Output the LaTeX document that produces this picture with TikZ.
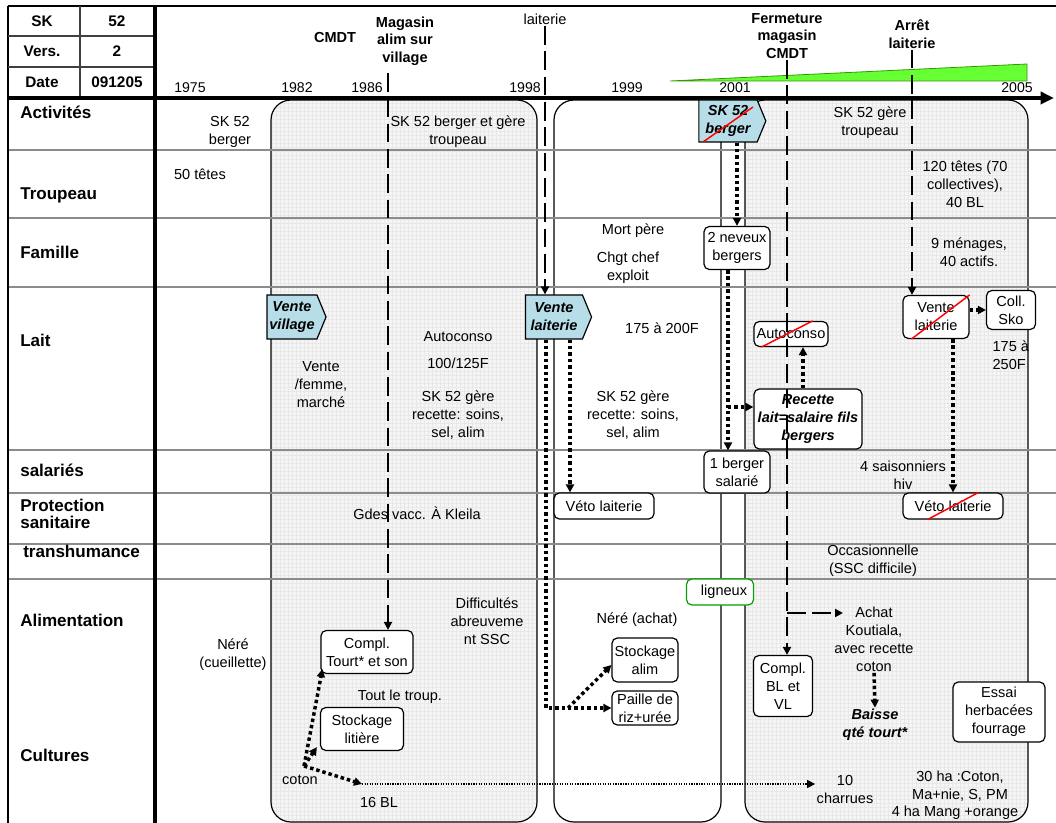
\documentclass[tikz,border=0pt]{standalone}
\usepackage{fontspec}
\setmainfont{Liberation Sans}
\usetikzlibrary{arrows.meta,positioning,calc,shapes.symbols,patterns}

\definecolor{signalblue}{RGB}{183,221,232}
\definecolor{wedgegreen}{RGB}{102,255,51}
\definecolor{wedgeline}{RGB}{51,153,0}
\definecolor{ligneuxgreen}{RGB}{0,160,0}

\begin{document}
\begin{tikzpicture}[x=0.75pt, y=-0.75pt,
  txt/.style={align=center, font=\fontsize{10.9}{13.5}\selectfont, inner sep=1pt},
  lab/.style={anchor=west, align=left, font=\fontsize{12.8}{12.8}\selectfont\bfseries, inner sep=0pt},
  ev/.style={align=center, font=\fontsize{10.9}{13}\selectfont\bfseries, inner sep=1pt},
  yr/.style={font=\fontsize{10.6}{12}\selectfont, inner sep=1pt},
  tab/.style={font=\fontsize{11.5}{12}\selectfont\bfseries, inner sep=1pt},
  wh/.style 2 args={minimum width=#1*0.75pt, minimum height=#2*0.75pt},
  rbox/.style={draw, rounded corners=4pt, fill=white, align=center,
               font=\fontsize{10.9}{13.5}\selectfont, inner sep=1pt, line width=0.9pt},
  sig/.style={draw, signal, signal to=east, signal pointer angle=135, fill=signalblue,
              align=center, font=\fontsize{10.9}{13.5}\selectfont\bfseries\itshape,
              inner sep=1pt, line width=0.9pt},
  phase/.style={draw, rounded corners=15pt, line width=0.9pt},
  grey/.style={preaction={fill=black!4}, pattern=grid, pattern color=black!9},
  row/.style={black!45, line width=0.8pt},
  evline/.style={line width=2pt, dash pattern=on 14pt off 5pt, -{Triangle[length=6pt,width=6pt]}},
  dotarr/.style={line width=2.6pt, dash pattern=on 2.6pt off 2.2pt, -{Triangle[length=6pt,width=6pt]}},
  finedot/.style={line width=0.8pt, dash pattern=on 0.9pt off 1pt, -{Triangle[length=6pt,width=6pt]}},
  strike/.style={red, line width=1.1pt}
]
  \useasboundingbox (0,0) rectangle (1056,823);

  % periods
  \draw[phase, grey]       (271,100) rectangle (537,822);
  \draw[phase, fill=white] (554,100) rectangle (721,822);
  \draw[phase, grey]       (745,100) rectangle (1028,822);

  \foreach \y in {150,218,287,450,493,544,579}
    \draw[row] (8,\y) -- (1056,\y);

  % frame and time axis
  \draw[line width=2.2pt] (8,6) -- (1056,6);
  \draw[line width=0.8pt] (8,6) -- (8,823);
  \draw[line width=0.8pt, black!75] (8,36) -- (155,36) (8,67) -- (155,67) (80,6) -- (80,97);
  \draw[line width=3pt] (155,6) -- (155,823);
  \draw[line width=3pt, -{Triangle[length=10pt,width=9pt]}] (8,98) -- (1054,98);

  \node[tab] (sk)   at (42,21)  {SK};
  \node[tab] (skn)  at (117,21) {52};
  \node[tab] (ver)  at (42,51)  {Vers.};
  \node[tab] (vern) at (117,51) {2};
  \node[tab] (dat)  at (42,82)  {Date};
  \node[tab] (datn) at (117,82) {091205};

  \draw[wedgeline, fill=wedgegreen, line width=0.6pt] (670,81) -- (1027,64) -- (1027,81) -- cycle;

  \node[yr] (y75) at (190,88)  {1975};
  \node[yr] (y82) at (297,88)  {1982};
  \node[yr] (y86) at (367,88)  {1986};
  \node[yr] (y98) at (525,88)  {1998};
  \node[yr] (y99) at (627,88)  {1999};
  \node[yr] (y01) at (735,88)  {2001};
  \node[yr] (y05) at (1017,88) {2005};

  \node[ev]  (cmdt) at (335,38) {CMDT};
  \node[ev]  (mag)  at (405,41) {Magasin\\alim sur\\village};
  \node[txt] (lai)  at (545,19) {laiterie};
  \node[ev]  (fer)  at (787,36) {Fermeture\\magasin\\CMDT};
  \node[ev]  (arr)  at (912,34) {Arrêt\\laiterie};

  % row labels
  \node[lab] (act) at (20,112) {Activités};
  \node[lab] (tro) at (20,195) {Troupeau};
  \node[lab] (fam) at (20,252) {Famille};
  \node[lab] (lt)  at (20,340) {Lait};
  \node[lab] (sl)  at (20,470) {salariés};
  \node[lab] (pro) at (20,514) {Protection\\sanitaire};
  \node[lab] (tra) at (23,551) {transhumance};
  \node[lab] (ali) at (20,620) {Alimentation};
  \node[lab] (cul) at (20,755) {Cultures};

  % texts
  \node[txt] (a1) at (230,132) {SK 52\\berger};
  \node[txt] (a2) at (458,132) {SK 52 berger et gère\\troupeau};
  \node[txt] (a3) at (870,123) {SK 52 gère\\troupeau};
  \node[txt] (h1) at (200,174) {50 têtes};
  \node[txt] (h2) at (965,184) {120 têtes (70\\collectives),\\40 BL};
  \node[txt] (f1) at (633,231) {Mort père};
  \node[txt] (f2) at (628,268) {Chgt chef\\exploit};
  \node[txt] (f3) at (969,252) {9 ménages,\\40 actifs.};
  \node[txt] (l1) at (321,385) {Vente\\/femme,\\marché};
  \node[txt] (l2) at (458,337) {Autoconso};
  \node[txt] (l3) at (458,363) {100/125F};
  \node[txt] (l4) at (458,415) {SK 52 gère\\recette: soins,\\sel, alim};
  \node[txt] (l5) at (662,328) {175 à 200F};
  \node[txt] (l6) at (633,415) {SK 52 gère\\recette: soins,\\sel, alim};
  \node[txt, anchor=west, align=left] (l7) at (991,355) {175 à\\250F};
  \node[txt] (s1) at (903,475) {4 saisonniers\\hiv};
  \node[txt] (p1) at (417,513) {Gdes vacc. À Kleila};
  \node[txt] (t1) at (873,561) {Occasionnelle\\(SSC difficile)};
  \node[txt] (n1) at (487,621) {Difficultés\\abreuveme\\nt SSC};
  \node[txt] (n2) at (637,620) {Néré (achat)};
  \node[txt] (ach) at (874,639) {Achat\\Koutiala,\\avec recette\\coton};
  \node[txt, font=\fontsize{10.9}{13.5}\selectfont\bfseries\itshape] (bai) at (875,725) {Baisse\\qté tourt*};
  \node[txt] (n3) at (233,655) {Néré\\(cueillette)};
  \node[txt] (n4) at (400,697) {Tout le troup.};
  \node[txt] (c1) at (300,780) {coton};
  \node[txt] (c2) at (379,802) {16 BL};
  \node[txt] (cha) at (845,789) {10\\charrues};
  \node[txt] (c3) at (960,786) {30 ha :Coton,\\Ma+nie, S, PM};
  \node[txt] (c4) at (955,813) {4 ha Mang +orange};

  % signals
  \node[sig, wh={67}{42}] (skb) at (728,121) {SK 52\\berger};
  \node[sig, wh={59}{44}] (vv)  at (292,317) {Vente\\village};
  \node[sig, wh={66}{44}] (vl)  at (554,317) {Vente\\laiterie};

  % boxes
  \node[rbox, wh={66}{43}]  (nev)   at (737,248) {2 neveux\\bergers};
  \node[rbox, wh={66}{42}]  (sal)   at (737,472) {1 berger\\salarié};
  \node[rbox, wh={74}{25}]  (au)    at (791,334) {Autoconso};
  \node[rbox, wh={108}{60}, font=\fontsize{10.9}{13.5}\selectfont\bfseries\itshape] (rec) at (808,419) {Recette\\lait=salaire fils\\bergers};
  \node[rbox, wh={66}{43}]  (vlx)   at (936,317) {Vente\\laiterie};
  \node[rbox, wh={49}{39}]  (coll)  at (1011,310) {Coll.\\Sko};
  \node[rbox, wh={100}{26}] (veto)  at (604,506) {Véto laiterie};
  \node[rbox, wh={100}{26}] (vetox) at (953,506) {Véto laiterie};
  \node[rbox, wh={67}{26}, draw=ligneuxgreen] (lig) at (720,592) {\hspace*{6pt}ligneux};
  \node[rbox, wh={66}{44}]  (sta)   at (645,660) {Stockage\\alim};
  \node[rbox, wh={66}{34}]  (pai)   at (645,708) {Paille de\\riz+urée};
  \node[rbox, wh={59}{61}]  (cbv)   at (783,686) {Compl.\\BL et\\VL};
  \node[rbox, wh={92}{60}]  (ess)   at (999,712) {Essai\\herbacées\\fourrage};
  \node[rbox, wh={92}{43}]  (comp)  at (367,652) {Compl.\\Tourt* et son};
  \node[rbox, wh={83}{43}]  (lit)   at (362,729) {Stockage\\litière};

  % crossed out
  \draw[strike] ($(skb.center)+(-25,21)$) -- ($(skb.center)+(25,-14)$);
  \draw[strike] ($(au.south west)+(8,0)$) -- ($(au.north east)+(-16,0)$);
  \draw[strike] ($(vlx.south west)+(9,0)$) -- (vlx.north east);
  \draw[strike] ($(vetox.south west)+(25,0)$) -- ($(vetox.north east)+(-25,0)$);

  % events
  \coordinate (m0) at (388,73);
  \draw[evline] (m0) -- (m0 |- comp.north);
  \draw[evline] (lai.south) -- (lai.south |- vl.north);
  \draw[evline] (fer.south) -- (fer.south |- cbv.north);
  \coordinate (fk) at (787,613);
  \coordinate (achin) at (843,613);
  \draw[evline] (fk) -- (achin);
  \draw[evline] (arr.south) -- (arr.south |- vlx.north);

  % links
  \draw[dotarr] (nev.north |- skb.south) -- (nev.north);
  \draw[dotarr] ($(nev.south)+(-9,0)$) -- ($(sal.north)+(-9,0)$);
  \coordinate (br) at (728,407);
  \draw[dotarr] (br) -- (br -| rec.west);
  \draw[dotarr] ($(rec.north)+(-5,0)$) -- ($(au.south)+(12,0)$);
  \draw[dotarr] ($(vl.south)+(16,0)$) -- ($(veto.north)+(-34,0)$);
  \draw[dotarr] ($(vl.south)+(-8,0)$) |- (pai.west);
  \coordinate (fk2) at (568,708);
  \draw[dotarr] (fk2) -- ($(sta.west)+(0,5)$);
  \draw[dotarr] (vetox.north |- vlx.south) -- (vetox.north);
  \draw[dotarr] (vlx.east |- coll.west) -- (coll.west);
  \draw[dotarr] (ach.south) -- (bai.north);
  \coordinate (cot) at (304,766);
  \coordinate (bl) at (362,784);
  \draw[dotarr] (cot) -- ($(comp.south west)+(2,-5)$);
  \draw[dotarr] (cot) -- ($(lit.south west)+(-3,-4)$);
  \draw[dotarr] (cot) -- (bl);
  \draw[finedot] (bl) -- (cha.west |- bl);
\end{tikzpicture}
\end{document}
